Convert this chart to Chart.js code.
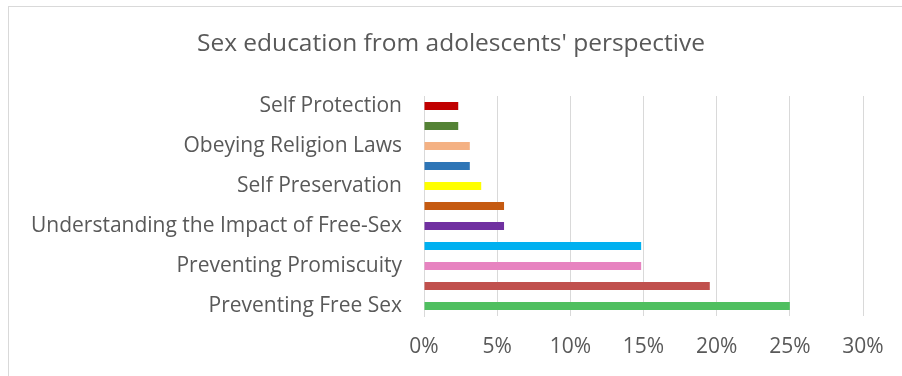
<!DOCTYPE html>
<html>
<head>
<meta charset="utf-8">
<script src="https://cdn.jsdelivr.net/npm/chart.js@4.4.0/dist/chart.umd.min.js"></script>
<style>
  html, body { margin: 0; padding: 0; background: #ffffff; overflow: hidden; }
  #wrap { position: relative; width: 902px; height: 376px; }
  #frame { position: absolute; left: 8px; top: 6px; width: 1000px; height: 1000px; border: 1px solid #d9d9d9; }
  canvas { position: absolute; left: 0; top: 0; }
</style>
</head>
<body>
<div id="wrap">
  <div id="frame"></div>
  <canvas id="chart" width="902" height="376"></canvas>
</div>
<script>
// categories top to bottom (every other label is hidden in the original)
var categories = [
    'Self Protection', '', 'Obeying Religion Laws', '', 'Self Preservation', '',
    'Understanding the Impact of Free-Sex', '', 'Preventing Promiscuity', '', 'Preventing Free Sex'
];
var percentages = [2.34, 2.34, 3.13, 3.13, 3.91, 5.47, 5.47, 14.84, 14.84, 19.53, 25.0];
var barColors = [
    '#c00000', '#548235', '#f4b183', '#2e75b6', '#ffff00', '#c55a11',
    '#7030a0', '#00b0f0', '#e783c0', '#c0504d', '#4fbf60'
];
var xTicks = [0, 5, 10, 15, 20, 25, 30];
var chartTitle = "Sex education from adolescents' perspective";

var FONT = "'Open Sans', sans-serif";
var textColor = '#595959';

// title centred on the whole picture, not on the padded layout box
var centeredTitle = {
    id: 'centeredTitle',
    afterDraw: function(chart) {
        var c = chart.ctx;
        c.save();
        c.font = "normal 24.5px " + FONT;
        c.fillStyle = textColor;
        c.textAlign = 'center';
        c.textBaseline = 'middle';
        c.fillText(chartTitle, chart.width / 2, 44);
        c.restore();
    }
};

var ctx = document.getElementById('chart').getContext('2d');
var sexEdChart = new Chart(ctx, {
    type: 'bar',
    data: {
        labels: categories,
        datasets: [{
            data: percentages,
            backgroundColor: barColors,
            borderWidth: 0,
            barPercentage: 0.4,
            categoryPercentage: 1.0
        }]
    },
    options: {
        indexAxis: 'y',
        responsive: false,
        animation: false,
        layout: {
            padding: { left: 0, right: 39, top: 96, bottom: 0 }
        },
        plugins: {
            legend: { display: false },
            tooltip: { enabled: false },
            title: { display: false }
        },
        scales: {
            x: {
                min: 0,
                max: 30,
                afterBuildTicks: function(axis) {
                    axis.ticks = xTicks.map(function(v) { return { value: v }; });
                },
                afterFit: function(axis) { axis.height = 60; },
                border: { display: false },
                grid: { color: '#d9d9d9', lineWidth: 1, drawTicks: false },
                ticks: {
                    color: textColor,
                    font: { family: FONT, size: 21 },
                    padding: 18,
                    maxRotation: 0,
                    callback: function(v) { return v + '%'; }
                }
            },
            y: {
                afterFit: function(axis) { axis.width = 424; },
                border: { display: true, color: '#d9d9d9', width: 1 },
                grid: { display: false, drawTicks: false },
                ticks: {
                    color: textColor,
                    font: { family: FONT, size: 21 },
                    padding: 22,
                    autoSkip: false
                }
            }
        }
    },
    plugins: [centeredTitle]
});
</script>
</body>
</html>
